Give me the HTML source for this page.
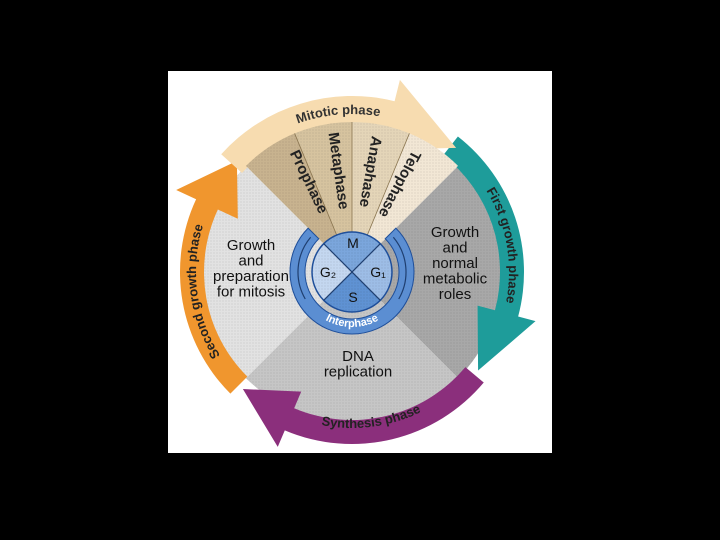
<!DOCTYPE html>
<html><head><meta charset="utf-8"><style>
html,body{margin:0;padding:0;background:#000;width:720px;height:540px;overflow:hidden}
svg{position:absolute;left:0;top:0}
text{font-family:"Liberation Sans",Arial,sans-serif}
</style></head><body>
<svg id="s" width="720" height="540" xmlns="http://www.w3.org/2000/svg">
<defs>
<pattern id="dot" width="3" height="3" patternUnits="userSpaceOnUse"><rect width="3" height="3" fill="none"/><circle cx="1" cy="1" r="0.6" fill="#000" opacity="0.12"/></pattern>
</defs>
<rect x="168" y="71" width="384" height="382" fill="#fff"/>
<g id="g"></g>
</svg>
<script>
var cx=352,cy=272,NS="http://www.w3.org/2000/svg",G=document.getElementById("g");
function P(r,a){a=a*Math.PI/180;return [cx+r*Math.cos(a),cy+r*Math.sin(a)];}
function el(t,at,txt){var e=document.createElementNS(NS,t);for(var k in at)e.setAttribute(k,at[k]);if(txt)e.textContent=txt;G.appendChild(e);return e;}
function sector(r,a1,a2,fill){var p1=P(r,a1),p2=P(r,a2);var d="M"+cx+","+cy+"L"+p1+"A"+r+","+r+" 0 "+((a2-a1)>180?1:0)+" 1 "+p2+"Z";el("path",{d:d,fill:fill});el("path",{d:d,fill:"url(#dot)"});}
function arrow(r1,r2,a1,a2,tip,w,fill){
 var dir=a2>a1?1:-1,sw=dir>0?1:0,sw2=dir>0?0:1;
 var big=Math.abs(a2-a1)>180?1:0,rm=(r1+r2)/2;
 var d="M"+P(r2,a1)+"A"+r2+","+r2+" 0 "+big+" "+sw+" "+P(r2,a2)+"L"+P(r2+w,a2)+"L"+P(rm,a2+dir*tip)+"L"+P(r1-w,a2)+"L"+P(r1,a2)+"A"+r1+","+r1+" 0 "+big+" "+sw2+" "+P(r1,a1)+"Z";
 el("path",{d:d,fill:fill});}
function arcText(r,a1,a2,txt,size,fill,id){var sw=a2>a1?1:0;var d="M"+P(r,a1)+"A"+r+","+r+" 0 0 "+sw+" "+P(r,a2);el("path",{id:id,d:d,fill:"none"});var t=el("text",{"font-size":size,fill:fill,"text-anchor":"middle","font-weight":"bold"});var tp=document.createElementNS(NS,"textPath");tp.setAttribute("href","#"+id);tp.setAttribute("startOffset","50%");tp.textContent=txt;t.appendChild(tp);}
sector(150,-45,45,"#a8a8a8");
sector(150,45,135,"#c6c6c6");
sector(150,135,225,"#e2e2e2");
arrow(148,172,-52,15,23,18,"#1e9c9a");
arrow(148,172,40,113,20,18,"#8b2f7c");
arrow(148,172,135,205,19,22,"#f0962e");
arrow(148,176,-138,-76,26,22,"#f7dcb0");
sector(150,-135,-112.5,"#c8b38f");
sector(150,-112.5,-90,"#d6c39f");
sector(150,-90,-67.5,"#e4d5b8");
sector(150,-67.5,-45,"#f2e7d5");
[-112.5,-90,-67.5].forEach(function(a){var p=P(150,a);el("line",{x1:cx,y1:cy,x2:p[0],y2:p[1],stroke:"#8a7550","stroke-width":0.8});});
[["Prophase",-116,120],["Metaphase",-98,122],["Anaphase",-80,122],["Telophase",-62,120]].forEach(function(x){var p=P(x[2]-20,x[1]);el("text",{x:p[0],y:p[1],"font-size":15,"font-weight":"bold",fill:"#222","text-anchor":"middle","dominant-baseline":"middle",transform:"rotate("+(x[1]+180)+" "+p[0]+" "+p[1]+")"},x[0]);});
arcText(158,-128,-62,"Mitotic phase",13,"#333","t1");
arcText(157,-50,30,"First growth phase",13,"#222","t2");
arcText(156,115,50,"Synthesis phase",13,"#222","t3");
arcText(156,135,210,"Second growth phase",13,"#222","t4");
(function(){var r1=47,r2=62;var d="M"+P(r2,-45)+"A"+r2+","+r2+" 0 1 1 "+P(r2,-135)+"L"+P(r1,-135)+"A"+r1+","+r1+" 0 1 0 "+P(r1,-45)+"Z";el("path",{d:d,fill:"#5b8ed2",stroke:"#1f4f9a","stroke-width":1});})();
sector(40,-135,-45,"#7ba6dc");sector(40,-45,45,"#9dbde6");sector(40,45,135,"#5f92d3");sector(40,135,225,"#c4d7f0");
el("circle",{cx:cx,cy:cy,r:40,fill:"none",stroke:"#1f4f9a","stroke-width":1.5});
[[-45,135],[-135,45]].forEach(function(x){var a=P(40,x[0]),b=P(40,x[1]);el("line",{x1:a[0],y1:a[1],x2:b[0],y2:b[1],stroke:"#1f3f70","stroke-width":1.2});});
[[-40,30],[150,220]].forEach(function(x){var r=54;el("path",{d:"M"+P(r,x[0])+"A"+r+","+r+" 0 0 1 "+P(r,x[1]),fill:"none",stroke:"#1f3f70","stroke-width":1.2});});
arcText(55,120,60,"Interphase",11,"#fff","t5");
el("text",{x:353,y:248,"font-size":14,fill:"#111","text-anchor":"middle"},"M");
el("text",{x:353,y:302,"font-size":14,fill:"#111","text-anchor":"middle"},"S");
el("text",{x:328,y:277,"font-size":14,fill:"#111","text-anchor":"middle"},"G\u2082");
el("text",{x:378,y:277,"font-size":14,fill:"#111","text-anchor":"middle"},"G\u2081");
function lines(x,y,arr){arr.forEach(function(s,i){el("text",{x:x,y:y+i*15.5,"font-size":15,fill:"#111","text-anchor":"middle"},s);});}
lines(251,250,["Growth","and","preparation","for mitosis"]);
lines(455,237,["Growth","and","normal","metabolic","roles"]);
lines(358,361,["DNA","replication"]);
</script>
</body></html>
